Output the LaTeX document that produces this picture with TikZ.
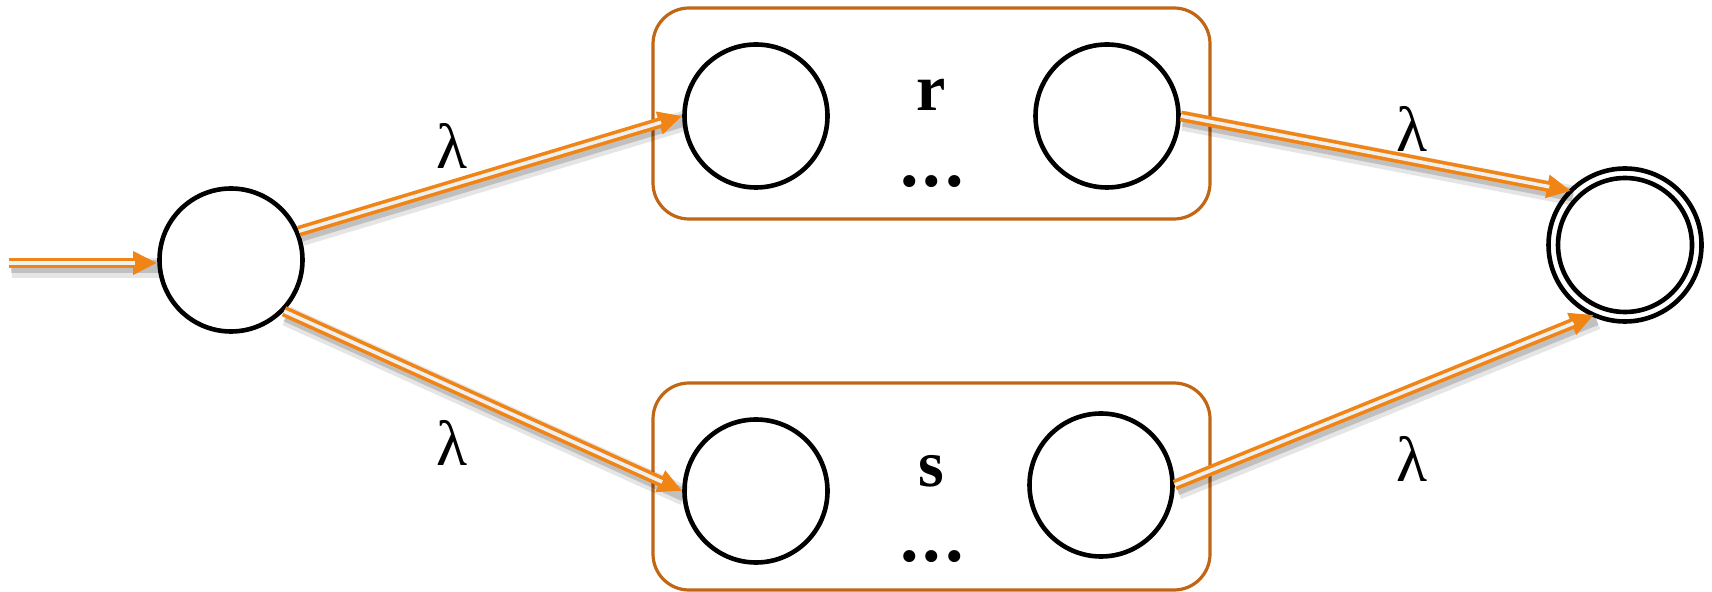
\documentclass[tikz,border=0pt]{standalone}
\usepackage{fontspec}
\setmainfont{Liberation Serif}
\usetikzlibrary{arrows.meta}
\definecolor{arrorange}{RGB}{240,132,20}
\definecolor{boxbrown}{RGB}{192,102,20}
\tikzset{
  state/.style={circle, draw=black, line width=2.3pt, minimum size=71.5pt, inner sep=0pt},
  group/.style={draw=boxbrown, line width=1.6pt, rounded corners=18pt, inner sep=0pt},
  lam/.style={inner sep=0pt, font=\fontsize{32}{32}\selectfont},
  tag/.style={inner sep=0pt, font=\fontsize{33}{33}\selectfont\bfseries},
  dots/.style={inner sep=0pt, font=\fontsize{37}{37}\selectfont\bfseries},
  trans/.style={draw=arrorange, line width=5.4pt,
    -{Triangle[length=12pt,width=11pt]},
    preaction={draw=black, opacity=0.10, line width=10pt, arrows=-,
      transform canvas={shift={(1.3pt,-2.4pt)}}},
    preaction={draw=black, opacity=0.16, line width=6.5pt, arrows=-,
      transform canvas={shift={(1pt,-2pt)}}},
    postaction={draw=gray!12, line width=1.8pt, arrows=-, shorten >=11pt}},
}
\begin{document}
\begin{tikzpicture}[x=0.5pt, y=-0.5pt]
\useasboundingbox (0,0) rectangle (1712,592);

% the two sub-automata
\node[group, minimum width=278.5pt, minimum height=105.5pt] (boxr) at (931.5,113.5) {};
\node[group, minimum width=278.5pt, minimum height=103.5pt] (boxs) at (931.5,486.5) {};

% states
\node[state] (st) at (231,260) {};
\node[state] (r1) at (756,116) {};
\node[state] (r2) at (1107,116) {};
\node[state] (s1) at (756,491) {};
\node[state] (s2) at (1101,485) {};
\node[state, minimum size=76.5pt, outer sep=0pt] (fin) at (1625,245) {};
\node[state, minimum size=67pt] (finin) at (fin) {};

% labels inside the boxes
\node[tag] (rl) at (931,95) {r};
\node[dots] (rd) at (932,182) {.\kern2pt.\kern2pt.};
\node[tag] (sl) at (931,471) {s};
\node[dots] (sd) at (932,557) {.\kern2pt.\kern2pt.};

% transitions
\coordinate (init) at (9,263);
\draw[trans] (init) -- (st.west |- init);
\draw[trans] (st.23.6) -- (r1.west);
\draw[trans] (st.-44) -- (s1.west);
\draw[trans] (r2.east) -- (fin.135);
\draw[trans] (s2.east) -- (fin.246);

% edge labels
\node[lam] (l1) at (452,146) {λ};
\node[lam] (l2) at (1412,129) {λ};
\node[lam] (l3) at (452,443) {λ};
\node[lam] (l4) at (1412,459) {λ};
\end{tikzpicture}
\end{document}
